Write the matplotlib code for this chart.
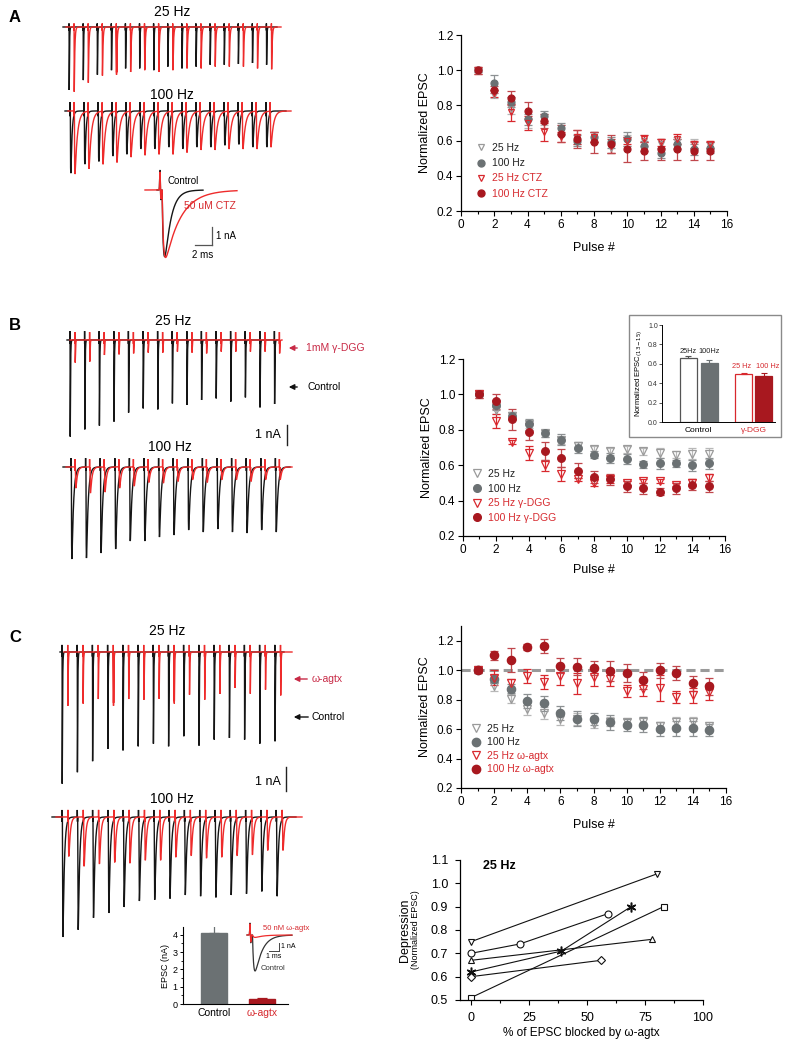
import numpy as np
import matplotlib
matplotlib.use("Agg")
import matplotlib.pyplot as plt
from matplotlib.patches import Rectangle
from matplotlib.lines import Line2D

plt.rcParams['font.family'] = ['Liberation Sans', 'DejaVu Sans']

# ---------------- data ----------------
pulses = np.arange(1, 16)

# Panel A (CTZ)
a_25 = [1.00, 0.86, 0.78, 0.70, 0.72, 0.66, 0.61, 0.62, 0.56, 0.60, 0.60, 0.58, 0.59, 0.58, 0.57]
a_25_err = [0.01, 0.02, 0.03, 0.03, 0.03, 0.03, 0.03, 0.03, 0.03, 0.03, 0.03, 0.03, 0.03, 0.03, 0.02]
a_100 = [1.00, 0.93, 0.82, 0.72, 0.74, 0.67, 0.60, 0.62, 0.59, 0.61, 0.57, 0.53, 0.58, 0.55, 0.56]
a_100_err = [0.01, 0.04, 0.03, 0.03, 0.03, 0.03, 0.03, 0.03, 0.03, 0.04, 0.03, 0.03, 0.03, 0.03, 0.03]
a_25c = [1.00, 0.87, 0.76, 0.70, 0.65, 0.62, 0.62, 0.62, 0.57, 0.60, 0.61, 0.59, 0.61, 0.58, 0.58]
a_25c_err = [0.02, 0.02, 0.05, 0.04, 0.05, 0.03, 0.04, 0.03, 0.04, 0.02, 0.02, 0.02, 0.03, 0.02, 0.02]
a_100c = [1.00, 0.89, 0.84, 0.77, 0.71, 0.64, 0.61, 0.59, 0.58, 0.55, 0.54, 0.55, 0.55, 0.54, 0.54]
a_100c_err = [0.02, 0.02, 0.04, 0.05, 0.04, 0.05, 0.05, 0.06, 0.05, 0.07, 0.05, 0.06, 0.06, 0.05, 0.05]

# Panel B (gamma-DGG)
b_25 = [1.00, 0.91, 0.88, 0.83, 0.78, 0.74, 0.71, 0.69, 0.68, 0.69, 0.68, 0.67, 0.66, 0.665, 0.665]
b_25_err = [0.01, 0.02, 0.02, 0.02, 0.02, 0.02, 0.02, 0.02, 0.02, 0.02, 0.02, 0.03, 0.02, 0.03, 0.03]
b_100 = [1.00, 0.94, 0.88, 0.83, 0.78, 0.745, 0.70, 0.66, 0.64, 0.635, 0.605, 0.61, 0.61, 0.60, 0.61]
b_100_err = [0.01, 0.03, 0.02, 0.03, 0.02, 0.03, 0.03, 0.02, 0.03, 0.03, 0.02, 0.03, 0.02, 0.03, 0.03]
b_25d = [1.00, 0.85, 0.73, 0.67, 0.60, 0.55, 0.52, 0.50, 0.52, 0.50, 0.51, 0.51, 0.49, 0.50, 0.53]
b_25d_err = [0.02, 0.04, 0.01, 0.04, 0.03, 0.04, 0.01, 0.02, 0.02, 0.01, 0.01, 0.01, 0.01, 0.02, 0.02]
b_100d = [1.00, 0.96, 0.86, 0.79, 0.68, 0.64, 0.57, 0.535, 0.52, 0.48, 0.47, 0.45, 0.47, 0.49, 0.48]
b_100d_err = [0.02, 0.04, 0.06, 0.05, 0.05, 0.05, 0.04, 0.035, 0.03, 0.03, 0.03, 0.02, 0.03, 0.03, 0.03]

# Panel B inset
inset_labels = ['25Hz', '100Hz', '25 Hz', '100 Hz']
inset_vals = [0.66, 0.61, 0.49, 0.47]
inset_err = [0.02, 0.025, 0.02, 0.035]

# Panel C (omega-agatoxin)
c_25 = [1.00, 0.89, 0.805, 0.735, 0.71, 0.67, 0.67, 0.635, 0.65, 0.645, 0.65, 0.62, 0.65, 0.65, 0.62]
c_25_err = [0.01, 0.03, 0.03, 0.04, 0.04, 0.04, 0.04, 0.03, 0.03, 0.03, 0.03, 0.03, 0.03, 0.03, 0.03]
c_100 = [1.00, 0.94, 0.875, 0.79, 0.775, 0.71, 0.67, 0.67, 0.645, 0.63, 0.63, 0.60, 0.605, 0.605, 0.595]
c_100_err = [0.01, 0.03, 0.03, 0.05, 0.05, 0.05, 0.05, 0.04, 0.05, 0.04, 0.05, 0.05, 0.05, 0.05, 0.04]
c_25a = [1.00, 0.95, 0.91, 0.96, 0.92, 0.96, 0.91, 0.955, 0.94, 0.86, 0.875, 0.88, 0.82, 0.83, 0.85]
c_25a_err = [0.02, 0.05, 0.03, 0.05, 0.05, 0.06, 0.07, 0.06, 0.05, 0.04, 0.05, 0.09, 0.04, 0.05, 0.05]
c_100a = [1.00, 1.10, 1.07, 1.155, 1.165, 1.03, 1.025, 1.015, 0.995, 0.98, 0.93, 1.00, 0.98, 0.91, 0.89]
c_100a_err = [0.02, 0.03, 0.08, 0.02, 0.05, 0.05, 0.06, 0.05, 0.07, 0.06, 0.06, 0.05, 0.05, 0.05, 0.06]

# Panel C bar inset (EPSC amplitude, nA)
bar_labels = ['Control', 'ω-agtx']
bar_vals = [4.1, 0.27]
bar_err = [0.45, 0.05]

# Panel C scatter: depression vs % block (one list per cell)
cell_markers = ['v', 'o', '^', (6, 2, 0), 'D', 's']
cell_x = [[0, 80], [0, 21, 59], [0, 78], [0, 39, 69], [0, 56], [0, 83]]
cell_y = [[0.75, 1.04], [0.70, 0.74, 0.87], [0.67, 0.76], [0.62, 0.71, 0.90], [0.60, 0.67], [0.51, 0.90]]

# Example traces: peak amplitudes (nA) per pulse
trA25_ctl = [3.5, 2.95, 2.65, 2.4, 2.3, 2.3, 2.4, 2.2, 2.3, 2.2, 2.1, 2.1, 2.05, 2.0, 2.1]
trA25_ctz = [3.6, 3.1, 2.7, 2.65, 2.5, 2.4, 2.5, 2.4, 2.3, 2.3, 2.2, 2.2, 2.2, 2.3, 2.35]
trA100_ctl = [3.45, 2.95, 2.8, 2.5, 2.4, 2.1, 2.1, 2.0, 2.1, 2.0, 2.0, 1.9, 1.85, 2.0, 2.0]
trA100_ctz = [3.5, 3.2, 2.95, 2.85, 2.55, 2.45, 2.4, 2.4, 2.3, 2.15, 2.15, 2.1, 2.1, 2.1, 2.0]
trB25_ctl = [4.83, 4.47, 4.28, 4.08, 3.63, 3.42, 3.47, 3.17, 3.25, 3.0, 2.92, 3.08, 2.87, 3.37, 3.2]
trB25_dgg = [1.13, 1.08, 0.75, 0.72, 0.67, 0.63, 0.63, 0.58, 0.63, 0.67, 0.58, 0.58, 0.58, 0.58, 0.67]
trB100_ctl = [4.6, 4.55, 4.3, 4.1, 3.7, 3.7, 3.5, 3.4, 3.15, 3.25, 3.1, 3.25, 3.3, 3.15, 3.25]
trB100_dgg = [1.05, 1.3, 1.25, 1.05, 0.95, 0.77, 0.8, 0.72, 0.63, 0.77, 0.63, 0.63, 0.72, 0.63, 0.63]
trC25_ctl = [5.49, 5.01, 4.55, 4.04, 4.1, 3.93, 3.82, 3.93, 3.51, 3.9, 3.65, 3.58, 3.65, 3.82, 3.72]
trC25_agtx = [2.24, 2.15, 1.96, 2.24, 1.96, 1.99, 1.95, 2.15, 1.78, 1.99, 1.75, 1.5, 1.74, 1.57, 1.81]
trC100_ctl = [5.0, 4.7, 4.2, 4.0, 3.75, 3.5, 3.45, 3.4, 3.25, 3.3, 3.35, 3.25, 3.2, 3.1, 3.3]
trC100_agtx = [1.64, 2.05, 1.95, 1.89, 1.92, 1.8, 1.8, 1.67, 1.61, 1.71, 1.67, 1.61, 1.57, 1.39, 1.39]
single_A = [3.7, 3.75]      # control, CTZ
single_C = [4.5, 0.3]       # control, agtx

# ---------------- styling ----------------
BLACK_TR = '#151515'
RED_TR = '#ee2b2b'
CRIMSON = '#c82a46'
GREY_F = '#6b7173'
GREY_O = '#9a9a9a'
RED_F = '#a8181f'
RED_O = '#d8282e'
RED_TXT = '#d62a2f'

W, H = 790, 1050
fig = plt.figure(figsize=(W / 100, H / 100), dpi=100)


def add_ax(l, t, r, b):
    return fig.add_axes([l / W, 1 - b / H, (r - l) / W, (b - t) / H])


def ftext(x, y, s, **kw):
    kw.setdefault('ha', 'center')
    kw.setdefault('va', 'center')
    fig.text(x / W, 1 - y / H, s, **kw)


def farrow(x0, x1, y, color):
    fig.add_artist(matplotlib.patches.FancyArrowPatch(
        (x0 / W, 1 - y / H), (x1 / W, 1 - y / H), transform=fig.transFigure,
        arrowstyle='-|>', mutation_scale=8, color=color, lw=1.0))


def epsc(t, onsets, amps, tau_r, tau_d, art_up, art_dn, delay=0.25, art_w=0.05):
    y = np.zeros_like(t)
    tp = tau_r * tau_d / (tau_d - tau_r) * np.log(tau_d / tau_r)
    norm = np.exp(-tp / tau_d) - np.exp(-tp / tau_r)
    for t0, a in zip(onsets, amps):
        s = t - t0 - delay
        m = s > 0
        y[m] -= a * (np.exp(-s[m] / tau_d) - np.exp(-s[m] / tau_r)) / norm
        y += art_up * np.exp(-((t - t0) / art_w) ** 2) - art_dn * np.exp(-((t - t0 - 2 * art_w) / art_w) ** 2)
    return y


def trace_axes(l, r, t, b, x0, base, ppm, ppn):
    ax = add_ax(l, t, r, b)
    ax.set_xlim((l - x0) / ppm, (r - x0) / ppm)
    ax.set_ylim(-(b - base) / ppn, (base - t) / ppn)
    ax.axis('off')
    return ax


def train(ax, span, x0, ppm, shift_ms, period, amps, tau_d, color, art_up, art_dn, lw=1.0):
    t = np.arange((span[0] - x0) / ppm, (span[1] - x0) / ppm, 0.01)
    onsets = shift_ms + period * np.arange(len(amps))
    ax.plot(t, epsc(t, onsets, amps, 0.15, tau_d, art_up, art_dn), color=color, lw=lw,
            solid_joinstyle='miter')


def style_plot(ax, ylim, yticks, fs=8.5, xpad=6):
    for s in ['top', 'right']:
        ax.spines[s].set_visible(False)
    for s in ['left', 'bottom']:
        ax.spines[s].set_linewidth(0.9)
    ax.set_xlim(0, 16)
    ax.set_ylim(*ylim)
    ax.set_xticks(np.arange(0, 17, 2))
    ax.set_xticks(np.arange(1, 16, 2), minor=True)
    ax.set_yticks(yticks)
    ax.set_yticklabels([f'{v:.1f}' for v in yticks])
    ax.tick_params(which='major', length=3.5, width=0.8, labelsize=fs, pad=2)
    ax.tick_params(which='minor', length=2, width=0.8)
    ax.set_xlabel('Pulse #', fontsize=9, labelpad=xpad)
    ax.set_ylabel('Normalized EPSC', fontsize=9, labelpad=4)


def series(ax, y, err, kind, ms=5):
    if kind == 'g_open':
        kw = dict(marker='v', mfc='none', mec=GREY_O, ecolor='#b8b8b8', mew=0.9)
    elif kind == 'g_fill':
        kw = dict(marker='o', mfc=GREY_F, mec=GREY_F, ecolor='#8d9193', mew=0.9)
    elif kind == 'r_open':
        kw = dict(marker='v', mfc='none', mec=RED_O, ecolor=RED_O, mew=0.9)
    else:
        kw = dict(marker='o', mfc=RED_F, mec=RED_F, ecolor='#c0474c', mew=0.9)
    ax.errorbar(pulses, y, yerr=err, ls='none', ms=ms, capsize=3, elinewidth=0.9,
                capthick=0.9, **kw)


def legend(ax, labels, anchor, spacing, ms=5):
    handles = [
        Line2D([], [], ls='none', marker='v', mfc='none', mec=GREY_O, mew=0.9, ms=ms),
        Line2D([], [], ls='none', marker='o', mfc=GREY_F, mec=GREY_F, ms=ms),
        Line2D([], [], ls='none', marker='v', mfc='none', mec=RED_O, mew=0.9, ms=ms),
        Line2D([], [], ls='none', marker='o', mfc=RED_F, mec=RED_F, ms=ms),
    ]
    ax.legend(handles, labels, loc='upper left', bbox_to_anchor=anchor, frameon=False,
              fontsize=7.5, handlelength=1.0, handletextpad=0.5, labelspacing=spacing,
              borderpad=0, borderaxespad=0,
              labelcolor=['#222222', '#222222', RED_TXT, RED_TXT])


# ================= Panel A =================
ftext(15, 17, 'A', fontsize=12, fontweight='bold')
ftext(172, 12, '25 Hz', fontsize=10)
ftext(172, 95, '100 Hz', fontsize=10)

ax = trace_axes(58, 288, 15, 97, 69, 27, 14.1 / 40, 18)
train(ax, (63, 277), 69, 14.1 / 40, 0, 40, trA25_ctl, 0.8, BLACK_TR, 0.2, 0.2)
train(ax, (66, 281), 69, 14.1 / 40, 14.2, 40, trA25_ctz, 1.6, RED_TR, 0.2, 0.2)

ax = trace_axes(58, 295, 100, 178, 70, 111, 1.4, 18)
train(ax, (65, 286), 70, 1.4, 0, 10, trA100_ctl, 0.8, BLACK_TR, 0.5, 0.3)
train(ax, (68, 291), 70, 1.4, 2.9, 10, trA100_ctz, 1.7, RED_TR, 0.5, 0.3)

ax = trace_axes(140, 245, 165, 262, 160, 190, 8.5, 18)
tt = np.arange((157 - 160) / 8.5, (203 - 160) / 8.5, 0.005)
ax.plot(tt, epsc(tt, [0], [single_A[0]], 0.15, 0.7, 1.1, 0.55), color=BLACK_TR, lw=1.0)
tt = np.arange((145 - 160) / 8.5, (237 - 160) / 8.5, 0.005)
ax.plot(tt, epsc(tt, [0], [single_A[1]], 0.15, 1.8, 1.0, 0.5), color=RED_TR, lw=1.0)
sx = (212 - 160) / 8.5
sy = -(245 - 190) / 18
ax.plot([sx, sx], [sy, sy + 1], color='#555555', lw=0.9)
ax.plot([sx - 2, sx], [sy, sy], color='#555555', lw=0.9)
ftext(167, 181, 'Control', fontsize=7, ha='left')
ftext(184, 206, '50 uM CTZ', fontsize=7.5, ha='left', color=RED_TXT)
ftext(216, 236, '1 nA', fontsize=7, ha='left')
ftext(203, 255, '2 ms', fontsize=7)

axA = add_ax(461, 35, 727, 211)
style_plot(axA, (0.2, 1.2), np.arange(0.2, 1.21, 0.2), xpad=8)
series(axA, a_25, a_25_err, 'g_open')
series(axA, a_100, a_100_err, 'g_fill')
series(axA, a_25c, a_25c_err, 'r_open')
series(axA, a_100c, a_100c_err, 'r_fill')
legend(axA, ['25 Hz', '100 Hz', '25 Hz CTZ', '100 Hz CTZ'], ((476 - 461) / 266, (211 - 143) / 176), 0.5)

# ================= Panel B =================
ftext(15, 325, 'B', fontsize=12, fontweight='bold')
ftext(173, 321, '25 Hz', fontsize=10)
ftext(170, 447, '100 Hz', fontsize=10)

ax = trace_axes(60, 290, 325, 445, 70, 340, 14.6 / 40, 20)
train(ax, (67, 278), 70, 14.6 / 40, 0, 40, trB25_ctl, 0.8, BLACK_TR, 0.45, 0.2)
train(ax, (70, 282), 70, 14.6 / 40, 13.7, 40, trB25_dgg, 0.8, RED_TR, 0.4, 0.2)

ax = trace_axes(58, 296, 455, 565, 71, 467, 1.46, 20)
train(ax, (63, 290), 71, 1.46, 0, 10, trB100_ctl, 1.1, BLACK_TR, 0.45, 0.2)
train(ax, (66, 292), 71, 1.46, 2.74, 10, trB100_dgg, 1.0, RED_TR, 0.4, 0.2)

farrow(300, 286, 348, CRIMSON)
ftext(306, 348, '1mM γ-DGG', fontsize=7.5, ha='left', color=CRIMSON)
farrow(300, 286, 387, '#111111')
ftext(308, 387, 'Control', fontsize=7.5, ha='left')
ftext(281, 435, '1 nA', fontsize=9, ha='right')
fig.add_artist(Line2D([287 / W, 287 / W], [1 - 425 / H, 1 - 445 / H], color='#222222', lw=1.0))

axB = add_ax(463, 359, 725, 536)
style_plot(axB, (0.2, 1.2), np.arange(0.2, 1.21, 0.2), xpad=6)
series(axB, b_25, b_25_err, 'g_open', ms=5.5)
series(axB, b_100, b_100_err, 'g_fill', ms=5.5)
series(axB, b_25d, b_25d_err, 'r_open', ms=5.5)
series(axB, b_100d, b_100d_err, 'r_fill', ms=5.5)
legend(axB, ['25 Hz', '100 Hz', '25 Hz γ-DGG', '100 Hz γ-DGG'], ((472 - 463) / 262, (536 - 469) / 177), 0.45, ms=5.5)

# inset of B
fig.add_artist(Rectangle((629 / W, 1 - 437 / H), (781 - 629) / W, (437 - 315) / H,
                         transform=fig.transFigure, fill=False, ec='#8a8a8a', lw=1.0))
axI = add_ax(662, 325, 775, 422)
xpos = [1, 2, 3.62, 4.57]
label_x = [1, 2, 3.5, 4.75]
fcs = ['white', GREY_F, 'white', RED_F]
ecs = ['#555555', GREY_F, RED_O, RED_F]
for xp, v, e, fc, ec in zip(xpos, inset_vals, inset_err, fcs, ecs):
    axI.bar(xp, v, width=0.82, color=fc, edgecolor=ec, lw=0.9)
    axI.errorbar(xp, v, yerr=[[0], [e]], color=ec, capsize=2.5, elinewidth=0.8, capthick=0.8)
axI.set_xlim(-0.24, 5.1)
axI.set_ylim(0, 1.0)
axI.set_yticks(np.arange(0, 1.01, 0.2))
axI.set_yticklabels([f'{v:.1f}' for v in np.arange(0, 1.01, 0.2)])
axI.set_xticks([])
for s in ['top', 'right']:
    axI.spines[s].set_visible(False)
for s in ['left', 'bottom']:
    axI.spines[s].set_linewidth(0.7)
axI.tick_params(length=2, width=0.6, labelsize=5, pad=1, colors='#333333')
axI.set_ylabel('Normalized EPSC$_{(13-15)}$', fontsize=5.5, labelpad=2)
for xp, lab, c, yv in zip(label_x, inset_labels, ['#222222', '#222222', RED_TXT, RED_TXT], [0.73, 0.73, 0.57, 0.57]):
    axI.text(xp, yv, lab, fontsize=5.3, ha='center', va='center', color=c)
axI.text(1.5, -0.09, 'Control', fontsize=6, ha='center', va='center')
axI.text(4.1, -0.09, 'γ-DGG', fontsize=6, ha='center', va='center', color=RED_TXT)

# ================= Panel C =================
ftext(15, 638, 'C', fontsize=12, fontweight='bold')
ftext(167, 631, '25 Hz', fontsize=10)
ftext(172, 799, '100 Hz', fontsize=10)

ax = trace_axes(52, 296, 640, 790, 62, 652, 15.2 / 40, 24)
train(ax, (60, 284), 62, 15.2 / 40, 0, 40, trC25_ctl, 0.8, BLACK_TR, 0.3, 0.2)
train(ax, (64, 292), 62, 15.2 / 40, 15.0, 40, trC25_agtx, 0.8, RED_TR, 0.3, 0.2)

ax = trace_axes(48, 306, 805, 945, 62, 817, 1.53, 24)
train(ax, (52, 296), 62, 1.53, 0, 10, trC100_ctl, 0.9, BLACK_TR, 0.3, 0.2)
train(ax, (56, 302), 62, 1.53, 3.9, 10, trC100_agtx, 0.9, RED_TR, 0.3, 0.2)

farrow(310, 291, 679, CRIMSON)
ftext(312, 679, 'ω-agtx', fontsize=7.5, ha='left', color=CRIMSON)
farrow(311, 291, 717, '#111111')
ftext(312, 717, 'Control', fontsize=7.5, ha='left')
ftext(281, 782, '1 nA', fontsize=9, ha='right')
fig.add_artist(Line2D([286 / W, 286 / W], [1 - 767 / H, 1 - 791 / H], color='#222222', lw=1.0))

# bar inset of C
axBar = add_ax(183, 927, 288, 1004)
bxs = [1, 2]
axBar.bar(bxs, bar_vals, width=0.54, color=[GREY_F, RED_F], edgecolor=[GREY_F, RED_F])
for xb, v, e, c in zip(bxs, bar_vals, bar_err, [GREY_F, RED_F]):
    axBar.errorbar(xb, v, yerr=[[0], [e]], color=c, capsize=3.5, elinewidth=0.9, capthick=0.9)
axBar.set_xlim(0.35, 2.54)
axBar.set_ylim(0, 4.45)
axBar.set_yticks(range(5))
axBar.set_yticks(np.arange(0.5, 4.5, 1), minor=True)
axBar.set_xticks(bxs)
axBar.set_xticklabels(bar_labels, fontsize=7.5)
axBar.get_xticklabels()[1].set_color(RED_TXT)
axBar.tick_params(axis='x', length=0, pad=3)
axBar.tick_params(axis='y', length=2.5, width=0.7, labelsize=6.5, pad=1.5)
axBar.tick_params(axis='y', which='minor', length=1.5, width=0.6)
for s in ['top', 'right']:
    axBar.spines[s].set_visible(False)
for s in ['left', 'bottom']:
    axBar.spines[s].set_linewidth(0.8)
axBar.set_ylabel('EPSC (nA)', fontsize=6.5, labelpad=2)

ax = trace_axes(240, 300, 915, 978, 250, 935, 10, 8)
tt = np.arange((247 - 250) / 10, (292 - 250) / 10, 0.005)
ax.plot(tt, epsc(tt, [0], [single_C[0]], 0.12, 0.7, 1.5, 1.0, art_w=0.04), color='#333333', lw=0.9)
ax.plot(tt, epsc(tt, [0], [single_C[1]], 0.12, 0.8, 1.4, 0.9, art_w=0.04), color=RED_TR, lw=0.9)
sx = (279 - 250) / 10
sy = -(951 - 935) / 8
ax.plot([sx, sx], [sy, sy + 1], color='#444444', lw=0.7)
ax.plot([sx - 1, sx], [sy, sy], color='#444444', lw=0.7)
ftext(263, 929, '50 nM ω-agtx', fontsize=5.5, ha='left', color=RED_TXT)
ftext(281, 946, '1 nA', fontsize=5, ha='left')
ftext(274, 956, '1 ms', fontsize=5)
ftext(261, 968, 'Control', fontsize=5.5, ha='left', color='#333333')

axC = add_ax(461, 626, 726, 788)
style_plot(axC, (0.2, 1.3), np.arange(0.2, 1.21, 0.2), xpad=8)
axC.axhline(1.0, color='#9a9a9a', lw=2.2, dashes=(3, 1.6), zorder=1)
series(axC, c_25, c_25_err, 'g_open', ms=6)
series(axC, c_100, c_100_err, 'g_fill', ms=6)
series(axC, c_25a, c_25a_err, 'r_open', ms=6)
series(axC, c_100a, c_100a_err, 'r_fill', ms=6)
legend(axC, ['25 Hz', '100 Hz', '25 Hz ω-agtx', '100 Hz ω-agtx'], ((471 - 461) / 265, (788 - 724) / 162), 0.33, ms=6)

# scatter
axD = add_ax(460, 860, 703, 1000)
for xs, ys, mk in zip(cell_x, cell_y, cell_markers):
    if isinstance(mk, tuple):
        axD.plot(xs, ys, color='#111111', lw=0.8, marker=mk, ms=7, mew=1.1, mec='#111111')
    else:
        axD.plot(xs, ys, color='#111111', lw=0.8, marker=mk, ms=4.5 if mk == 'D' else 5,
                 mfc='white', mec='#111111', mew=0.8)
axD.set_xlim(-4.74, 100)
axD.set_ylim(0.5, 1.1)
axD.set_xticks([0, 25, 50, 75, 100])
axD.set_xticks([12.5, 37.5, 62.5, 87.5], minor=True)
axD.set_yticks(np.arange(0.5, 1.11, 0.1))
axD.set_yticklabels([f'{v:.1f}' for v in np.arange(0.5, 1.11, 0.1)])
for s in ['top', 'right']:
    axD.spines[s].set_visible(False)
for s in ['left', 'bottom']:
    axD.spines[s].set_linewidth(0.9)
axD.tick_params(which='major', length=3.5, width=0.8, labelsize=9, pad=5)
axD.tick_params(which='minor', length=2, width=0.8)
axD.set_xlabel('% of EPSC blocked by ω-agtx', fontsize=8.5, labelpad=2)
axD.text(5, 1.075, '25 Hz', fontsize=9, fontweight='bold', ha='left', va='center')
ftext(405, 930, 'Depression', fontsize=9, rotation=90)
ftext(416, 930, '(Normalized EPSC)', fontsize=6.5, rotation=90)

fig.savefig('out.png', dpi=100)
